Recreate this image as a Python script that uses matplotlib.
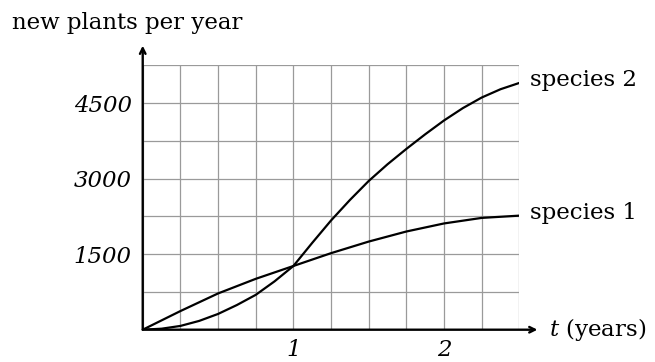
import numpy as np
import matplotlib
matplotlib.use("Agg")
import matplotlib.pyplot as plt

# values
t1 = [0, 0.25, 0.5, 0.75, 1.0, 1.25, 1.5, 1.75, 2.0, 2.25, 2.5]
species1 = [0, 370, 720, 1010, 1265, 1520, 1750, 1950, 2110, 2220, 2265]

t2 = [0, 0.125, 0.25, 0.375, 0.5, 0.625, 0.75, 0.875, 1.0, 1.125, 1.25, 1.375,
      1.5, 1.625, 1.75, 1.875, 2.0, 2.125, 2.25, 2.375, 2.5]
species2 = [0, 20, 75, 175, 313, 490, 692, 960, 1265, 1724, 2169, 2575,
            2953, 3285, 3590, 3880, 4155, 4400, 4610, 4775, 4900]

yticks = [1500, 3000, 4500]
xticks = [1, 2]

plt.rcParams['font.family'] = ['DejaVu Serif']
plt.rcParams['mathtext.fontset'] = 'dejavuserif'

fig = plt.figure(figsize=(6.55, 3.62), dpi=100)
ax = fig.add_axes([0.2179, 0.0892, 0.575, 0.7304])

ax.plot(t1, species1, color='black', lw=1.6, solid_joinstyle='round', zorder=3)
ax.plot(t2, species2, color='black', lw=1.6, solid_joinstyle='round', zorder=3)

fs = 16.5
ax.set_xlim(0, 2.5)
ax.set_ylim(0, 5250)
ax.set_xticks(xticks)
ax.set_xticklabels([str(v) for v in xticks], fontstyle='italic', fontsize=fs)
ax.set_yticks(yticks)
ax.set_yticklabels([str(v) for v in yticks], fontstyle='italic', fontsize=fs)
ax.set_xticks(np.arange(0, 2.51, 0.25), minor=True)
ax.set_yticks(np.arange(0, 5251, 750), minor=True)
ax.tick_params(which='both', length=0)
ax.tick_params(axis='x', pad=6.5)
ax.tick_params(axis='y', pad=8)
ax.grid(which='both', color='#9a9a9a', lw=0.9)
ax.set_axisbelow(True)

for s in ax.spines.values():
    s.set_visible(False)

# axis arrows
ax.annotate('', xy=(2.62, 0), xytext=(0, 0), annotation_clip=False,
            arrowprops=dict(arrowstyle='->', lw=1.7, color='black', shrinkA=0, shrinkB=0))
ax.annotate('', xy=(0, 5640), xytext=(0, 0), annotation_clip=False,
            arrowprops=dict(arrowstyle='->', lw=1.7, color='black', shrinkA=0, shrinkB=0))

ax.text(2.57, species2[-1] + 60, 'species 2', fontsize=fs, va='center', ha='left')
ax.text(2.57, species1[-1] + 60, 'species 1', fontsize=fs, va='center', ha='left')
ax.text(2.70, 0, '$t$ (years)', fontsize=fs, va='center', ha='left')
fig.text(12 / 655, 1 - 23 / 362, 'new plants per year', fontsize=fs, va='center', ha='left')

fig.savefig('out.png', dpi=100)
